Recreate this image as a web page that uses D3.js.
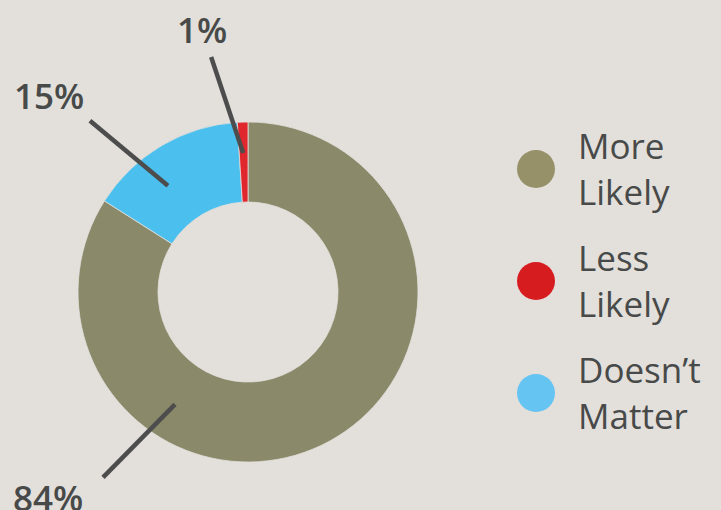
<!DOCTYPE html>
<html>
<head>
<meta charset="utf-8">
<script src="https://cdn.jsdelivr.net/npm/d3@7"></script>
<style>
  html, body { margin: 0; padding: 0; background: #e3dfdb; }
  svg { display: block; }
</style>
</head>
<body>
<svg id="chart" width="721" height="510"></svg>
<script>
// Survey answers, in drawing order (clockwise from 12 o'clock)
const categories = ["More Likely", "Doesn’t Matter", "Less Likely"];
const values = [84, 15, 1];
const valueLabels = ["84%", "15%", "1%"];

// Legend order and wrapped text
const legendCategories = ["More Likely", "Less Likely", "Doesn’t Matter"];
const legendLines = [["More", "Likely"], ["Less", "Likely"], ["Doesn’t", "Matter"]];

const sliceColor = { "More Likely": "#8a8a6b", "Less Likely": "#e0272e", "Doesn’t Matter": "#4bc0ee" };
const legendColor = { "More Likely": "#979169", "Less Likely": "#d71c20", "Doesn’t Matter": "#66c4f2" };

const W = 721, H = 510;
const cx = 248, cy = 292, outerR = 170, innerR = 90;
const textColor = "#474a49";
const lineColor = "#4d4d4d";

const svg = d3.select("#chart");
svg.append("rect").attr("width", W).attr("height", H).attr("fill", "#e3dfdb");

const pie = d3.pie().sort(null).value(d => d.value);
const arcs = pie(categories.map((c, i) => ({ cat: c, value: values[i], label: valueLabels[i] })));
const arc = d3.arc().innerRadius(innerR).outerRadius(outerR);

const g = svg.append("g").attr("transform", `translate(${cx},${cy})`);
g.selectAll("path.slice")
  .data(arcs)
  .join("path")
  .attr("class", "slice")
  .attr("d", arc)
  .attr("fill", d => sliceColor[d.data.cat])
  .attr("stroke", "#e3dfdb")
  .attr("stroke-width", 0.8);

// Leader lines: inner end as (angle in degrees clockwise from top, radius), outer end offset
const leader = {
  "More Likely":    { a: 213, r: 134, dx: -72, dy: 73, tx: -235, ty: 219 },
  "Doesn’t Matter": { a: 323, r: 133, dx: -78, dy: -65, tx: -234, ty: -183 },
  "Less Likely":    { a: 358, r: 139, dx: -32, dy: -96, tx: -71, ty: -249 }
};

arcs.forEach(d => {
  const L = leader[d.data.cat];
  const rad = L.a * Math.PI / 180;
  const x1 = L.r * Math.sin(rad), y1 = -L.r * Math.cos(rad);
  g.append("line")
    .attr("x1", x1).attr("y1", y1)
    .attr("x2", x1 + L.dx).attr("y2", y1 + L.dy)
    .attr("stroke", lineColor)
    .attr("stroke-width", 4.5);
  g.append("text")
    .attr("x", L.tx).attr("y", L.ty)
    .attr("font-family", "'Open Sans', sans-serif")
    .attr("font-weight", 600)
    .attr("font-size", 35)
    .attr("fill", textColor)
    .text(d.data.label);
});

// Legend
const legend = svg.append("g");
const yScale = d3.scalePoint().domain(legendCategories).range([169, 393]);
legendCategories.forEach((c, i) => {
  const y = yScale(c);
  legend.append("circle")
    .attr("cx", 536).attr("cy", y).attr("r", 19)
    .attr("fill", legendColor[c]);
  const t = legend.append("text")
    .attr("font-family", "'Open Sans', sans-serif")
    .attr("font-size", 35)
    .attr("fill", textColor);
  legendLines[i].forEach((line, j) => {
    t.append("tspan")
      .attr("x", 578)
      .attr("y", y - 10 + j * 46)
      .text(line);
  });
});
</script>
</body>
</html>
